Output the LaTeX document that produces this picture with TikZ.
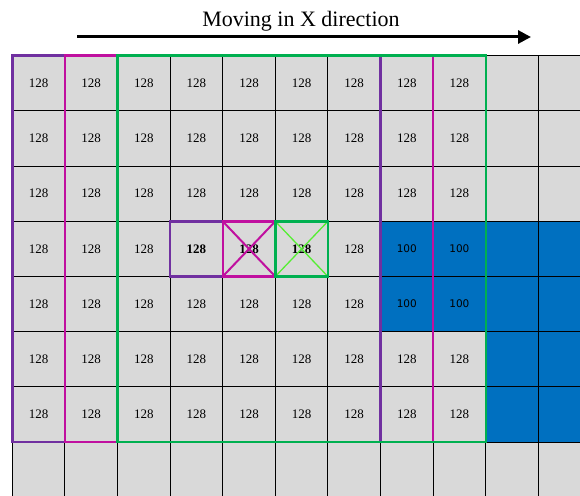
\documentclass[tikz,border=0pt]{standalone}
\usepackage{fontspec}
\setmainfont{Liberation Serif}
\newfontfamily\cellsans{DejaVu Sans}
\usetikzlibrary{arrows.meta}
\definecolor{cellgray}{HTML}{D9D9D9}
\definecolor{cellblue}{HTML}{0070C0}
\definecolor{winpurple}{HTML}{7030A0}
\definecolor{winmagenta}{HTML}{C0109F}
\definecolor{wingreen}{HTML}{00B050}
\definecolor{crossgreen}{HTML}{55EE33}
\begin{document}
\begin{tikzpicture}[x=1pt,y=-1pt,
  cell/.style={draw=black, line width=1.1pt, fill=cellgray,
    minimum width=52.6pt, minimum height=55.2pt, inner sep=0pt, outer sep=0pt,
    font=\fontsize{13}{15}\selectfont},
  window/.style={line width=2.4pt},
  cross/.style={line width=2pt},
  title/.style={font=\fontsize{22}{26}\selectfont, inner sep=0pt}
]
\useasboundingbox (0,0) rectangle (580,495);
\begin{scope}
\clip (0,0) rectangle (580,495);
% grid of pixel cells: 11 columns, 8 rows
\foreach \j in {0,...,7}{
  \foreach \i in {0,...,10}{
    \def\txt{}
    \def\fillc{cellgray}
    \ifnum\j<7 \ifnum\i<9 \def\txt{128}\fi\fi
    \ifnum\j=3 \ifnum\i>2 \ifnum\i<6 \def\txt{\textbf{128}}\fi\fi\fi
    % blue region on the right
    \ifnum\j>2 \ifnum\j<5 \ifnum\i>6 \def\fillc{cellblue}\fi\fi\fi
    \ifnum\j>4 \ifnum\j<7 \ifnum\i>8 \def\fillc{cellblue}\fi\fi\fi
    \ifnum\j>2 \ifnum\j<5 \ifnum\i>6 \ifnum\i<9 \def\txt{{\cellsans\fontsize{10.5}{12}\selectfont 100}}\fi\fi\fi\fi
    \node[cell, fill=\fillc] (c-\i-\j) at ({12.3+52.6*(\i+0.5)},{55.7+55.2*(\j+0.5)}) {\txt};
  }
}
\end{scope}
% three overlapping 7x7 windows
\draw[window, winpurple] (c-0-0.north west) rectangle (c-6-6.south east);
\draw[window, winmagenta] (c-1-0.north west) rectangle (c-7-6.south east);
\draw[window, wingreen] (c-2-0.north west) rectangle (c-8-6.south east);
% centre pixels of the windows
\draw[window, winpurple] (c-3-3.north west) rectangle (c-3-3.south east);
\draw[cross, winmagenta] (c-4-3.north west) -- (c-4-3.south east)
  (c-4-3.south west) -- (c-4-3.north east);
\draw[window, winmagenta] (c-4-3.north west) rectangle (c-4-3.south east);
\draw[cross, crossgreen, line width=1.3pt] (c-5-3.north west) -- (c-5-3.south east)
  (c-5-3.south west) -- (c-5-3.north east);
\draw[window, wingreen] (c-5-3.north west) rectangle (c-5-3.south east);
% heading and direction arrow
\node[title, anchor=base] (head) at (301,26.7) {Moving in X direction};
\coordinate (arrS) at (77,37);
\coordinate (arrE) at (531,37);
\draw[line width=3pt, -{Triangle[length=13pt,width=13pt]}] (arrS) -- (arrE);
\end{tikzpicture}
\end{document}
